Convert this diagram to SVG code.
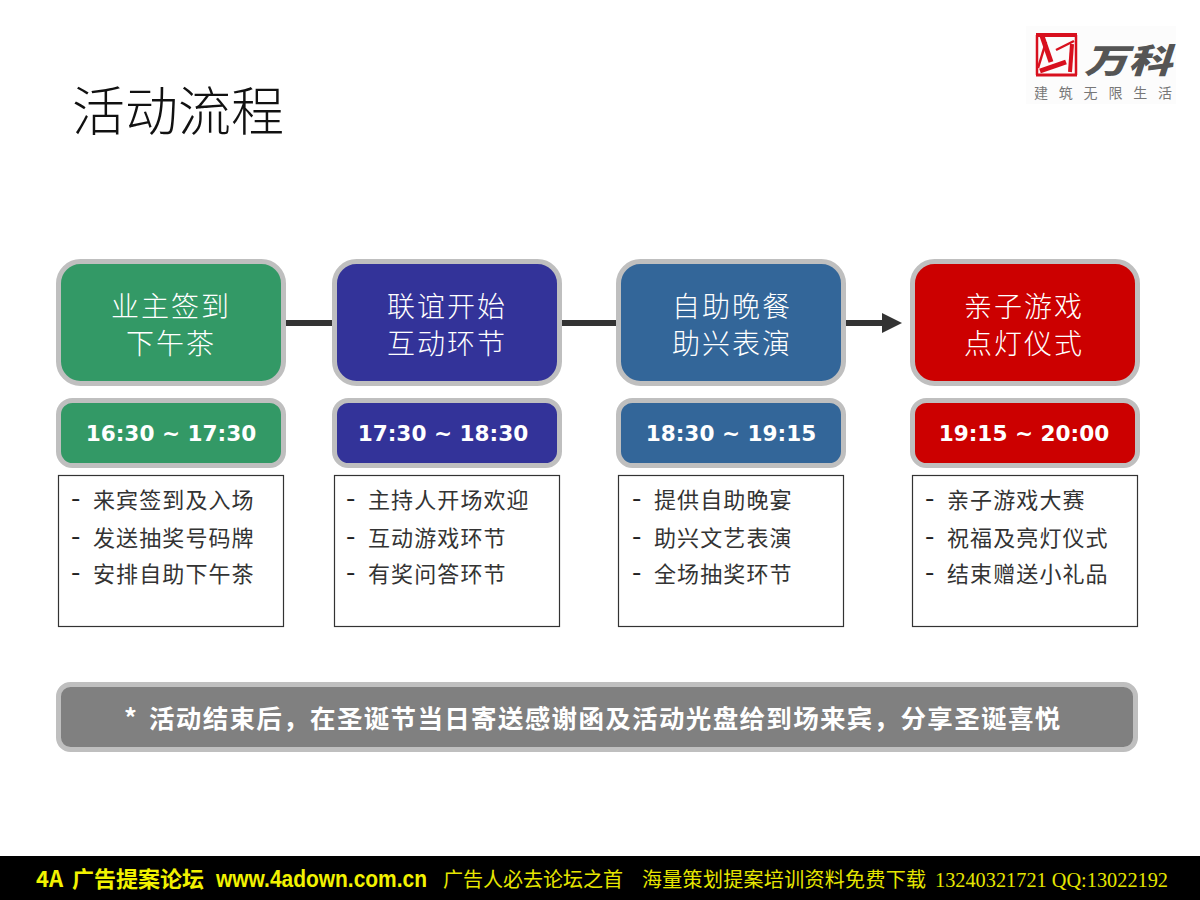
<svg xmlns="http://www.w3.org/2000/svg" width="1200" height="900" viewBox="0 0 1200 900">
<style>
text{font-family:"Noto Sans CJK SC","Noto Sans",sans-serif}
.box{stroke:#bfbfbf;stroke-width:5}
.head{font-size:28px;font-weight:300;fill:#fff;text-anchor:middle;letter-spacing:2px}
.time{font-family:"DejaVu Sans",sans-serif;font-size:21.6px;font-weight:700;fill:#fff;text-anchor:middle}
.list{fill:#fff;stroke:#333;stroke-width:1.2}
.item{font-size:22px;font-weight:400;fill:#333;letter-spacing:1.1px}
.dash{font-size:27px;fill:#222}
.conn{stroke:#333;stroke-width:6;fill:none}
.y{fill:#f2f200;font-size:22px;font-weight:700}
.y2{fill:#e6e600;font-size:20px;font-weight:400}
.g{fill:#339966}.b{fill:#333399}.s{fill:#336699}.r{fill:#cc0000}
.logo{stroke:#d8101e;fill:none}
</style>
<defs><marker id="arrow" markerUnits="userSpaceOnUse" markerWidth="22" markerHeight="22" refX="0" refY="11" orient="auto"><path d="M0 1L20 11L0 21Z" fill="#333"/></marker></defs>
<rect width="1200" height="900" fill="#fff"/>
<text x="72" y="131" font-size="53" font-weight="300" fill="#111">活动流程</text>
<g id="logo">
<rect x="1026" y="26" width="150" height="78" fill="#fcfcfc"/>
<g class="logo">
<path d="M1036 35H1077" stroke-width="4"/>
<path d="M1037 35V75M1076 35V75" stroke-width="2.500"/>
<path d="M1036 75H1077" stroke-width="3"/>
<path d="M1042 36L1051 62" stroke-width="5"/>
<path d="M1038 68L1046 42" stroke-width="2.500"/>
<path d="M1040 71L1066 62" stroke-width="5"/>
<path d="M1072 44L1070 72" stroke-width="4"/>
<path d="M1056 50L1074 41" stroke-width="2.500"/>
</g>
<text x="1084" y="73" font-size="34" font-weight="900" font-style="italic" fill="#555" textLength="88" lengthAdjust="spacingAndGlyphs">万科</text>
<text x="1034" y="98" font-size="14" fill="#777" textLength="138">建筑无限生活</text>
</g>
<g id="connectors">
<path class="conn" d="M286 323H332"/>
<path class="conn" d="M561 323H617"/>
<path class="conn" d="M846 323H882" marker-end="url(#arrow)"/>
</g>
<g id="node1">
<rect class="box g" x="58.500" y="261.500" width="225" height="122" rx="22"/>
<text class="head" x="171" y="317">业主签到</text><text class="head" x="171" y="354">下午茶</text>
<rect class="box g" x="58.500" y="400.500" width="225" height="65" rx="14"/>
<text class="time" x="171" y="441">16:30 ~ 17:30</text>
<rect class="list" x="58.500" y="475.500" width="225" height="151"/>
<text class="item" y="508"><tspan class="dash" x="71">-</tspan><tspan x="93">来宾签到及入场</tspan></text>
<text class="item" y="546"><tspan class="dash" x="71">-</tspan><tspan x="93">发送抽奖号码牌</tspan></text>
<text class="item" y="582"><tspan class="dash" x="71">-</tspan><tspan x="93">安排自助下午茶</tspan></text>
</g>
<g id="node2">
<rect class="box b" x="334.500" y="261.500" width="225" height="122" rx="22"/>
<text class="head" x="447" y="317">联谊开始</text><text class="head" x="447" y="354">互动环节</text>
<rect class="box b" x="334.500" y="400.500" width="225" height="65" rx="14"/>
<text class="time" x="443" y="441">17:30 ~ 18:30</text>
<rect class="list" x="334.500" y="475.500" width="225" height="151"/>
<text class="item" y="508"><tspan class="dash" x="346">-</tspan><tspan x="368">主持人开场欢迎</tspan></text>
<text class="item" y="546"><tspan class="dash" x="346">-</tspan><tspan x="368">互动游戏环节</tspan></text>
<text class="item" y="582"><tspan class="dash" x="346">-</tspan><tspan x="368">有奖问答环节</tspan></text>
</g>
<g id="node3">
<rect class="box s" x="618.500" y="261.500" width="225" height="122" rx="22"/>
<text class="head" x="732" y="317">自助晚餐</text><text class="head" x="732" y="354">助兴表演</text>
<rect class="box s" x="618.500" y="400.500" width="225" height="65" rx="14"/>
<text class="time" x="731" y="441">18:30 ~ 19:15</text>
<rect class="list" x="618.500" y="475.500" width="225" height="151"/>
<text class="item" y="508"><tspan class="dash" x="632">-</tspan><tspan x="654">提供自助晚宴</tspan></text>
<text class="item" y="546"><tspan class="dash" x="632">-</tspan><tspan x="654">助兴文艺表演</tspan></text>
<text class="item" y="582"><tspan class="dash" x="632">-</tspan><tspan x="654">全场抽奖环节</tspan></text>
</g>
<g id="node4">
<rect class="box r" x="912.500" y="261.500" width="225" height="122" rx="22"/>
<text class="head" x="1024" y="317">亲子游戏</text><text class="head" x="1024" y="354">点灯仪式</text>
<rect class="box r" x="912.500" y="400.500" width="225" height="65" rx="14"/>
<text class="time" x="1024" y="441">19:15 ~ 20:00</text>
<rect class="list" x="912.500" y="475.500" width="225" height="151"/>
<text class="item" y="508"><tspan class="dash" x="925">-</tspan><tspan x="947">亲子游戏大赛</tspan></text>
<text class="item" y="546"><tspan class="dash" x="925">-</tspan><tspan x="947">祝福及亮灯仪式</tspan></text>
<text class="item" y="582"><tspan class="dash" x="925">-</tspan><tspan x="947">结束赠送小礼品</tspan></text>
</g>
<g id="note">
<rect class="box" x="58.500" y="684.500" width="1077" height="65" rx="12" fill="#808080"/>
<text y="728" font-size="25.500" font-weight="700" fill="#fff" letter-spacing="1.340"><tspan x="124">*</tspan><tspan x="149">活动结束后，在圣诞节当日寄送感谢函及活动光盘给到场来宾，分享圣诞喜悦</tspan></text>
</g>
<g id="footer">
<rect y="856" width="1200" height="44" fill="#000"/>
<text class="y" x="36" y="887"><tspan>4A</tspan><tspan x="72">广告提案论坛</tspan></text>
<text class="y" x="216" y="887" style="font-family:'Liberation Sans',sans-serif;font-size:23px" textLength="211" lengthAdjust="spacingAndGlyphs">www.4adown.com.cn</text>
<text class="y2" x="443" y="887" textLength="180">广告人必去论坛之首</text>
<text class="y2" x="642" y="887" textLength="284">海量策划提案培训资料免费下载</text>
<text class="y2" x="935" y="887" style="font-family:'Liberation Serif',serif;font-size:22px" textLength="233" lengthAdjust="spacingAndGlyphs">13240321721 QQ:13022192</text>
</g>
</svg>
